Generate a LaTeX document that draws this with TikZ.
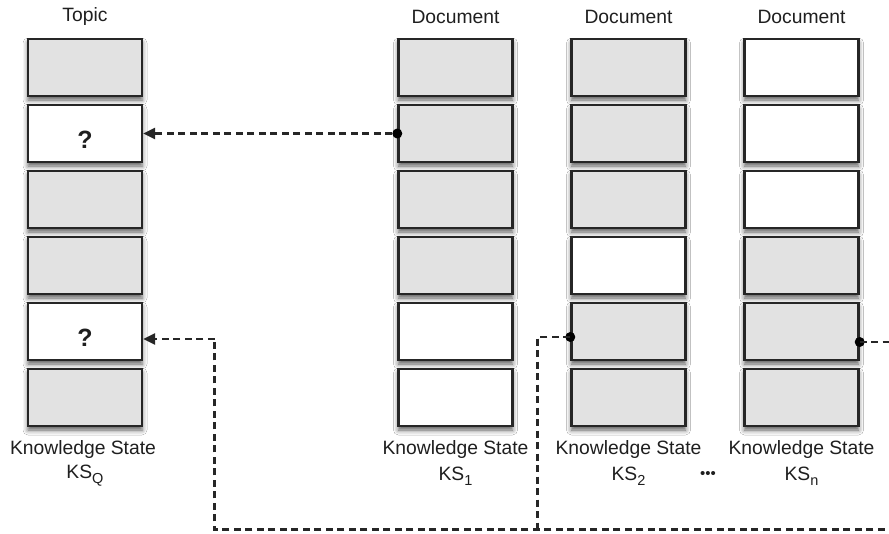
\documentclass[tikz,border=0pt]{standalone}
\usepackage{fontspec}
\setmainfont{Liberation Sans}
\usetikzlibrary{calc,arrows.meta,shadows.blur}
\definecolor{cellgray}{HTML}{E2E2E2}
\definecolor{edge}{HTML}{262626}
\newcommand\kssub[1]{\raisebox{-0.5ex}{\fontsize{14.5}{14.5}\selectfont #1}}
\begin{document}
\begin{tikzpicture}[x=1pt,y=-1pt,
  cell/.style={draw=edge, line width=2.4pt, minimum width=114pt, minimum height=57pt,
    inner sep=0pt, blur shadow={shadow xshift=0pt, shadow yshift=-4pt,
    shadow blur radius=5pt, shadow opacity=65}},
  gcell/.style={cell, fill=cellgray},
  wcell/.style={cell, fill=white},
  lbl/.style={font=\fontsize{19.3}{22}\selectfont, text=black!88, inner sep=0pt},
  link/.style={draw=edge, line width=2.6pt, dash pattern=on 7pt off 4.5pt},
  tip/.style={-{Triangle[length=12pt,width=11pt]}},
  dot/.style={circle, fill=black, inner sep=0pt, minimum size=10pt}
]
\useasboundingbox (0,0) rectangle (889,533);
\fill[white] (0,0) rectangle (889,533);

% columns of knowledge-state cells
\foreach \col/\cx/\fills in {1/85/{g,w,g,g,w,g}, 2/455.5/{g,g,g,g,w,w},
                             3/628.5/{g,g,g,w,g,g}, 4/801.5/{w,w,w,g,g,g}}{
  \foreach \f [count=\r] in \fills {
    \node[\f cell] (c\col r\r) at (\cx, 67.5+66*\r-66) {};
  }
}

% question marks in the topic column
\node[font=\fontsize{25}{25}\selectfont\bfseries, text=black!88] (q2) at ($(c1r2.center)+(0,6)$) {?};
\node[font=\fontsize{25}{25}\selectfont\bfseries, text=black!88] (q5) at ($(c1r5.center)+(0,6)$) {?};

% column headings
\node[lbl] (h1) at (85,17) {Topic};
\node[lbl] (h2) at (455.5,17) {Document};
\node[lbl] (h3) at (628.5,17) {Document};
\node[lbl] (h4) at (801.5,17) {Document};

% captions
\node[lbl] (k1) at (83,450) {Knowledge State};
\node[lbl] (k2) at (455.5,450) {Knowledge State};
\node[lbl] (k3) at (628.5,450) {Knowledge State};
\node[lbl] (k4) at (801.5,450) {Knowledge State};
\node[lbl] (s1) at (85,476) {KS\kssub{Q}};
\node[lbl] (s2) at (455.5,476) {KS\kssub{1}};
\node[lbl] (s3) at (628.5,476) {KS\kssub{2}};
\node[lbl] (s4) at (801.5,476) {KS\kssub{n}};
\node[font=\fontsize{15}{15}\selectfont, text=black!88, inner sep=0pt] (ell) at (708,475) {•••};

% link from document 1 to the topic
\node[dot] (d2) at (c2r2.west) {};
\draw[link, tip] (d2) -- (c1r2.east);

% links from documents 2 and n, routed along the bottom
\node[dot] (d3) at ($(c3r5.west)+(0,5.5)$) {};
\node[dot] (d4) at ($(c4r5.east)+(0,10.5)$) {};
\coordinate (a5) at ($(c1r5.east)+(0,7.5)$);
\coordinate (v1) at (214.5,529.5);
\coordinate (v3) at (537.5,529.5);
\coordinate (far) at (905,529.5);
\draw[link] (d3.center) -- (d3.center -| v3) -- (v3);
\draw[link] (d4.center) -- (d4.center -| far) -- (far) -- (v1) -- (v1 |- a5);
\draw[link, tip] (v1 |- a5) -- (a5);
\end{tikzpicture}
\end{document}
